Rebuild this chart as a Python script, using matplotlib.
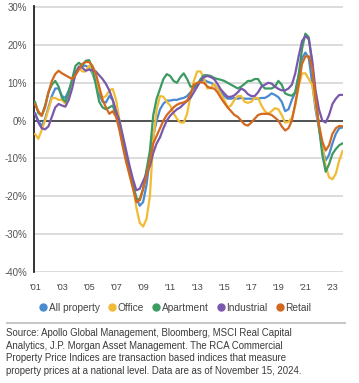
import numpy as np
import matplotlib.pyplot as plt
from matplotlib.lines import Line2D

plt.rcParams['font.family'] = ['Liberation Sans', 'DejaVu Sans']

# quarterly, 2001 Q1 .. 2023 Q4, y/y % change
quarters = np.arange(2001, 2024, 0.25)

all_property = [
    2, 0, -1.5, 0.5,
    3.5, 6.5, 8.5, 8.5,
    6.5, 6, 8, 10.5,
    12.5, 14, 14.5, 14.5,
    14, 12.5, 10, 7,
    5, 4.8, 6.5, 5.5,
    2, -1.8, -6, -10.5,
    -13.5, -17, -20.5, -22.5,
    -21.5, -17, -10, -4,
    0, 3, 4.5, 5.3,
    5.3, 5.5, 5.5, 5.8,
    6, 6.5, 7.5, 8.5,
    9.5, 10.5, 10.8, 10.3,
    10, 9.5, 8.5, 7.5,
    6.5, 5.8, 5.8, 6,
    5.8, 6, 5.8, 5.8,
    5.8, 5.8, 5.8, 6,
    6, 6.5, 7.2, 6.8,
    6.2, 5, 2.5, 3,
    5.5, 7.5, 12, 16.5,
    18, 16.5, 10, 3,
    -2, -7.5, -10.5, -9,
    -6, -3.5, -2, -1.8,
]

office = [
    -3.5, -4.8, -2.5, 0,
    3, 6, 6, 5.5,
    5.5, 4.5, 7, 10.5,
    13, 14, 13, 13,
    14.5, 13, 10.5, 8,
    6, 6.5, 8, 8.4,
    5.5, 0, -5, -9.5,
    -13, -17, -23, -27,
    -28, -26, -20, -5,
    3, 6.5, 6.3, 5,
    4, 2, 0.5, -0.5,
    -0.5, 1.8, 6.5, 10.5,
    13, 13, 11, 8.5,
    8.7, 9.7, 8.5, 7,
    5.5, 3.5, 4, 5.5,
    6.5, 6.5, 5, 4.7,
    5, 6, 6, 4,
    2.5, 1.8, 2.5, 3.3,
    3, 1.5, -0.5, -0.3,
    0.8, 4, 9, 12.5,
    12.5, 11, 9.5, 4,
    -1.5, -7, -12, -15,
    -15.5, -14, -10.5, -8,
]

apartment = [
    5, 2, 1.3, 4,
    7.5, 9.5, 10.5, 9,
    6, 5, 7.5, 11,
    14.5, 15.3, 14.5, 15.8,
    16, 14, 9.5, 5,
    3.5, 3, 3.5, 4,
    1.5, -2, -6, -10,
    -13.5, -17, -20.5, -21,
    -18, -13, -8, 1.5,
    5.8, 8.4, 11, 12.3,
    11.8, 10.5, 10, 11.5,
    12.5, 11, 9, 9,
    9.5, 11, 12, 12,
    11.8, 11.3, 11, 10.8,
    10.5, 10, 9.5, 9,
    8.5, 9, 9.7, 10.5,
    10.5, 11, 11, 9.5,
    8.5, 8.5, 8.5, 9,
    10.5, 9.5, 7.2, 6.8,
    6.6, 7.5, 12, 19,
    23, 22, 15, 6,
    -1.5, -9, -13.5, -11.5,
    -8.8, -7.5, -6.5, -6,
]

industrial = [
    2, -0.5, -2, -2.3,
    -1.5, 1, 3.5, 4.4,
    4, 3.7, 5.5, 8.5,
    12.5, 14.3, 14, 13.2,
    13.5, 13.3, 13, 12,
    11, 9.7, 8, 5.5,
    2.5, 0, -4, -8,
    -12, -15.5, -18.4, -18,
    -16, -14, -12, -8.5,
    -6, -4.4, -2, 0,
    1.3, 2.2, 3, 3.5,
    4.4, 5.2, 6, 7.5,
    9, 10.5, 11.5, 11.8,
    11.5, 11, 9.7, 8.2,
    7.2, 6.3, 6.3, 6.7,
    7.5, 8.5, 8, 7,
    6.5, 6.5, 7.5, 9,
    9.5, 10, 9.8, 9,
    8.4, 8, 8, 8.5,
    9.5, 12.5, 17, 21,
    22.4, 21.5, 16, 8,
    3, 0, -0.5, 1.5,
    4.4, 5.8, 6.8, 6.8,
]

retail = [
    4.4, 2.5, 1.3, 3.5,
    7.5, 10.5, 12.3, 13.2,
    12.5, 12, 11.5, 11,
    12, 13.5, 15, 15.5,
    15.5, 14.5, 12.5, 9,
    5.5, 3.5, 1.8, 2.5,
    1, -2.5, -7, -11,
    -14.5, -18, -21.5, -21,
    -18, -14.5, -10.5, -6,
    -4, -2, 0, 1.5,
    2.5, 3.5, 4.2, 4.6,
    4.8, 5.3, 7, 9.5,
    10, 10.2, 10, 9,
    8.6, 8.5, 7.5, 6,
    4.7, 3.5, 2.5, 1.5,
    1, 0, -1, -1.3,
    -0.5, 0.5, 1.5, 1.8,
    1.8, 1.8, 1.5, 0.8,
    0, -1.5, -2.6, -2,
    0, 4.5, 9.5, 15,
    17, 17, 14, 6,
    -1, -5.5, -7.9, -6.5,
    -3.5, -2, -1.4, -1.5,
]

series = ['All property', 'Office', 'Apartment', 'Industrial', 'Retail']
values = [all_property, office, apartment, industrial, retail]
colors = ['#4a8ad0', '#f2bb35', '#3c9a62', '#7a58ac', '#d2691f']

tick_years = list(range(2001, 2024, 2))
tick_labels = ["'%02d" % (y % 100) for y in tick_years]
y_ticks = [-40, -30, -20, -10, 0, 10, 20, 30]

fig = plt.figure(figsize=(3.59, 3.83), dpi=100)
ax = fig.add_axes([34 / 359, 1 - 272 / 383, 309 / 359, 266 / 383])

for yv in y_ticks:
    if yv == 0:
        ax.axhline(0, color='#333333', lw=1.2, zorder=3)
    else:
        ax.axhline(yv, color='#d6d6d6', lw=1.2, zorder=1)

for name, vals, c in zip(series, values, colors):
    ax.plot(quarters, vals, color=c, lw=1.6, solid_capstyle='round', zorder=4)

ax.set_xlim(2000.93, 2023.78)
ax.set_ylim(-40, 30.3)
ax.set_yticks(y_ticks)
ax.set_yticklabels(['%d%%' % v for v in y_ticks])
ax.set_xticks(tick_years)
ax.set_xticklabels(tick_labels)
ax.tick_params(axis='y', length=0, pad=5, labelsize=7, labelcolor='#555555')
ax.tick_params(axis='x', length=0, pad=8, labelsize=6.5, labelcolor='#444444')

for s in ['top', 'right', 'bottom']:
    ax.spines[s].set_visible(False)
ax.spines['left'].set_color('#222222')
ax.spines['left'].set_linewidth(1.3)

handles = [Line2D([], [], marker='o', ls='', color=c, markersize=5) for c in colors]
fig.legend(handles, series, loc='center', bbox_to_anchor=(0.487, 1 - 308 / 383),
           ncol=5, frameon=False, fontsize=7.3, handletextpad=0.05,
           columnspacing=0.7, handlelength=1.0, labelcolor='#444444')

fig.add_artist(Line2D([7 / 359, 345 / 359], [1 - 323 / 383, 1 - 323 / 383],
                      color='#c8c8c8', lw=1.5))

note = ("Source: Apollo Global Management, Bloomberg, MSCI Real Capital\n"
        "Analytics, J.P. Morgan Asset Management. The RCA Commercial\n"
        "Property Price Indices are transaction based indices that measure\n"
        "property prices at a national level. Data are as of November 15, 2024.")
fig.text(6 / 359, 1 - 328 / 383, note, ha='left', va='top', fontsize=6.9,
         color='#3a3a3a', linespacing=1.32)

fig.savefig('out.png', dpi=100)
